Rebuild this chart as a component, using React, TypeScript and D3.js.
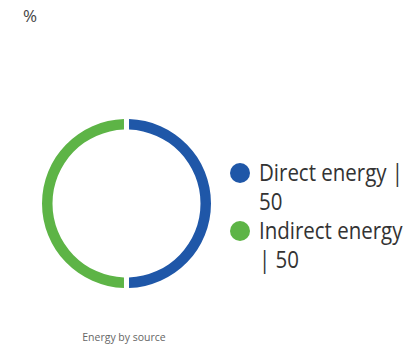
import React from "react";
import * as d3 from "d3";

const categories = ["Direct energy", "Indirect energy"];
const values = [50, 50];
const colors = ["#1f57a8", "#5db446"];
const unitLabel = "%";
const caption = "Energy by source";

export default function App() {
  const width = 409;
  const height = 346;
  const cx = 126.5;
  const cy = 203.5;
  const outerR = 84.5;
  const innerR = 74;

  const pie = d3.pie<number>().sort(null).value((d) => d).padAngle(0.045);
  const arcs = pie(values);
  const arc = d3.arc<d3.PieArcDatum<number>>().innerRadius(innerR).outerRadius(outerR);

  const legendX = 240;
  const legendY = [173, 231];
  const textX = 259;
  const font = "'Open Sans', sans-serif";

  return (
    <svg width={width} height={height} style={{ position: "absolute", left: 0, top: 0 }}>
      <text x={23} y={22} fontFamily={font} fontSize={17} fill="#444">{unitLabel}</text>
      <g transform={`translate(${cx},${cy})`}>
        {arcs.map((a, i) => (
          <path key={i} d={arc(a) || ""} fill={colors[i]} />
        ))}
      </g>
      {categories.map((c, i) => (
        <g key={c}>
          <circle cx={legendX} cy={legendY[i]} r={10} fill={colors[i]} />
          <g transform={`translate(${textX},0) scale(0.89,1)`}>
            {i === 0 ? (
              <>
                <text x={0} y={legendY[i] + 8} fontFamily={font} fontSize={23} fill="#333">{`${c} |`}</text>
                <text x={0} y={legendY[i] + 37} fontFamily={font} fontSize={23} fill="#333">{values[i]}</text>
              </>
            ) : (
              <>
                <text x={0} y={legendY[i] + 8} fontFamily={font} fontSize={23} fill="#333">{c}</text>
                <text x={0} y={legendY[i] + 37} fontFamily={font} fontSize={23} fill="#333">{`| ${values[i]}`}</text>
              </>
            )}
          </g>
        </g>
      ))}
      <text x={124} y={341} textAnchor="middle" fontFamily={font} fontSize={10.5} fill="#666">{caption}</text>
    </svg>
  );
}
